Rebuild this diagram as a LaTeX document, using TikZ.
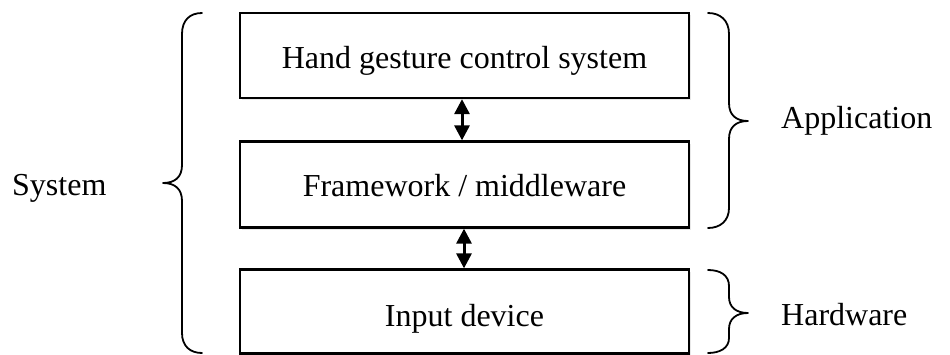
\documentclass[tikz,border=0pt]{standalone}
\usepackage{fontspec}
\setmainfont{Liberation Serif}
\usetikzlibrary{arrows.meta,shadows}

\tikzset{
  layerbox/.style={draw=black, line width=2.3pt, fill=white, minimum width=449pt,
                   inner sep=0pt, text depth=0pt, font=\fontsize{32}{38}\selectfont,
                   drop shadow={shadow xshift=2pt, shadow yshift=-2pt, opacity=0.18}},
  sidelabel/.style={anchor=base west, inner sep=0pt, font=\fontsize{32}{38}\selectfont},
  bothway/.style={line width=3pt, {Triangle[length=15pt,width=15pt]}-{Triangle[length=15pt,width=15pt]}},
  bracket/.style={draw=black, line width=1.8pt, line cap=round, line join=round}
}

\begin{document}
\begin{tikzpicture}[x=1pt,y=-1pt]
  % canvas
  \fill[white] (0,0) rectangle (950,354);
  \useasboundingbox (0,0) rectangle (950,354);

  % the three layers
  \node[layerbox, minimum height=85pt, text height=25.6pt] (app) at (464.5,55.5)  {Hand gesture control system};
  \node[layerbox, minimum height=86pt, text height=24.4pt] (mw)  at (464.5,184.5) {Framework / middleware};
  \node[layerbox, minimum height=84pt, text height=30pt]   (hw)  at (464.5,311.5) {Input device};

  % links between layers
  \draw[bothway] ([xshift=-2.5pt]app.south) -- ([xshift=-2.5pt]mw.north);
  \draw[bothway] ([xshift=-0.5pt]mw.south) -- ([xshift=-0.5pt]hw.north);

  % brace for the whole system (left)
  \draw[bracket] (202,13) .. controls (190,13) and (182,20) .. (182,34)
     -- (182,165) .. controls (182,177) and (175,183) .. (163,183)
     .. controls (175,183) and (182,189) .. (182,201)
     -- (182,333) .. controls (182,346) and (190,353) .. (202,353);
  \node[sidelabel] (sys) at (12,195) {System};

  % brace for the application part (right)
  \draw[bracket] (708,13) .. controls (720,13) and (729,20) .. (729,34)
     -- (729,103) .. controls (729,115) and (736,121) .. (748,121)
     .. controls (736,121) and (729,127) .. (729,139)
     -- (729,208) .. controls (729,221) and (720,228) .. (708,228);
  \node[sidelabel] (appl) at (781,128.3) {Application};

  % brace for the hardware part (right)
  \draw[bracket] (708,270) .. controls (720,270) and (729,275) .. (729,286)
     -- (729,297) .. controls (729,307) and (736,313) .. (748,313)
     .. controls (736,313) and (729,319) .. (729,329)
     -- (729,338) .. controls (729,348) and (720,353) .. (708,353);
  \node[sidelabel] (hwl) at (781,325) {Hardware};
\end{tikzpicture}
\end{document}
